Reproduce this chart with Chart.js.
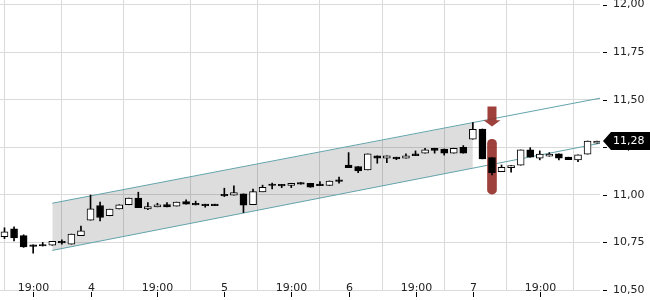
<!DOCTYPE html>
<html><head><meta charset="utf-8">
<script src="https://cdn.jsdelivr.net/npm/chart.js@4"></script>
<style>html,body{margin:0;padding:0;background:#fff}canvas{display:block}</style>
</head><body>
<canvas id="c" width="650" height="300"></canvas>
<script>
// ---- data ----
const opens  = [10.780,10.821,10.786,10.738,10.739,10.735,10.756,10.741,10.786,10.867,10.944,10.890,10.926,10.948,10.983,10.926,10.937,10.949,10.941,10.965,10.956,10.951,10.951,11.003,10.998,11.005,10.948,11.016,11.057,11.055,11.049,11.065,11.061,11.056,11.049,11.079,11.157,11.149,11.131,11.205,11.193,11.198,11.193,11.215,11.219,11.245,11.241,11.219,11.250,11.292,11.346,11.196,11.122,11.143,11.156,11.236,11.193,11.203,11.215,11.198,11.184,11.214,11.271];
const highs  = [10.827,10.832,10.790,10.738,10.750,10.756,10.764,10.794,10.836,10.999,10.962,10.925,10.948,10.983,11.014,10.960,10.956,10.960,10.962,10.974,10.967,10.951,10.951,11.035,11.047,11.005,11.030,11.051,11.062,11.055,11.061,11.065,11.061,11.070,11.073,11.093,11.222,11.149,11.215,11.205,11.205,11.198,11.215,11.231,11.245,11.245,11.241,11.245,11.259,11.380,11.346,11.196,11.157,11.154,11.236,11.248,11.231,11.222,11.215,11.198,11.210,11.283,11.283];
const lows   = [10.770,10.758,10.724,10.694,10.731,10.735,10.741,10.741,10.786,10.867,10.863,10.890,10.926,10.948,10.933,10.922,10.937,10.937,10.941,10.951,10.947,10.935,10.943,10.991,10.998,10.907,10.948,11.016,11.031,11.038,11.038,11.056,11.040,11.048,11.049,11.061,11.143,11.117,11.131,11.166,11.169,11.185,11.193,11.206,11.219,11.219,11.209,11.219,11.219,11.292,11.189,11.105,11.122,11.119,11.156,11.198,11.184,11.203,11.183,11.185,11.175,11.214,11.271];
const closes = [10.806,10.774,10.726,10.729,10.731,10.756,10.748,10.794,10.811,10.926,10.881,10.925,10.948,10.983,10.933,10.939,10.948,10.937,10.962,10.951,10.947,10.943,10.943,10.995,11.012,10.946,11.017,11.040,11.049,11.047,11.061,11.056,11.040,11.048,11.073,11.071,11.143,11.126,11.215,11.193,11.205,11.189,11.205,11.206,11.236,11.234,11.219,11.245,11.219,11.345,11.189,11.117,11.145,11.154,11.236,11.198,11.214,11.214,11.193,11.185,11.210,11.283,11.283];

const xTickIdx    = [3, 9, 16, 23, 30, 36, 43, 49, 56];
const xTickLabels = ['19:00', '4', '19:00', '5', '19:00', '6', '19:00', '7', '19:00'];
const yTicks      = [10.5, 10.75, 11, 11.25, 11.5, 11.75, 12];

const channelUpper     = [{x: 5, y: 10.956}, {x: 62.3, y: 11.508}];
const channelLower     = [{x: 5, y: 10.708}, {x: 62.3, y: 11.271}];
const channelFillUpper = [{x: 5, y: 10.956}, {x: 49, y: 11.378}];
const channelFillLower = [{x: 5, y: 10.708}, {x: 49, y: 11.140}];

const signalIndex = 51;
const signalRange = [11.004, 11.292];
const signalArrow = [11.464, 11.392, 11.359]; // shaft top, head base, tip

// ---- styles ----
const FONT = 'DejaVu Sans';
const GRID = '#dadada';
const TEAL = '#63a3ab';
const SIGNAL = 'rgba(150,48,42,0.92)';
const TEXT = '#222';

const bodies = opens.map((o, i) => ({x: i, y: [o, closes[i]]}));
const wicks = lows.map((l, i) => ({x: i, y: [l, highs[i]]}));
const bodyColors = opens.map((o, i) => closes[i] >= o ? '#ffffff' : '#000000');

const fmt = v => v.toFixed(2).replace('.', ',');

const overlay = {
  id: 'overlay',
  afterDatasetsDraw(chart) {
    const ctx = chart.ctx, xs = chart.scales.x, ys = chart.scales.y;
    const ax = xs.getPixelForValue(signalIndex);
    const yTop = ys.getPixelForValue(signalArrow[0]);
    const yBase = ys.getPixelForValue(signalArrow[1]);
    const yTip = ys.getPixelForValue(signalArrow[2]);
    ctx.save();
    ctx.fillStyle = SIGNAL;
    ctx.beginPath();
    ctx.moveTo(ax - 4.5, yTop);
    ctx.lineTo(ax + 4.5, yTop);
    ctx.lineTo(ax + 4.5, yBase);
    ctx.lineTo(ax + 8.5, yBase);
    ctx.lineTo(ax, yTip);
    ctx.lineTo(ax - 8.5, yBase);
    ctx.lineTo(ax - 4.5, yBase);
    ctx.closePath();
    ctx.fill();
    ctx.restore();
  },
  afterDraw(chart) {
    const ctx = chart.ctx, xs = chart.scales.x, ys = chart.scales.y;
    const area = chart.chartArea;
    ctx.save();
    ctx.font = '11px "' + FONT + '"';
    ctx.textAlign = 'center';
    ctx.textBaseline = 'alphabetic';
    ctx.strokeStyle = '#000';
    ctx.lineWidth = 1;
    xTickIdx.forEach((idx, k) => {
      const px = Math.round(xs.getPixelForValue(idx)) + 0.5;
      const w = ctx.measureText(xTickLabels[k]).width;
      ctx.fillStyle = '#fff';
      ctx.fillRect(px - w / 2 - 1, area.bottom - 8, w + 2, 7.5);
      ctx.fillStyle = TEXT;
      ctx.fillText(xTickLabels[k], px, area.bottom + 0.5);
      ctx.beginPath();
      ctx.moveTo(px, area.bottom + 2);
      ctx.lineTo(px, area.bottom + 7);
      ctx.stroke();
    });
    yTicks.forEach(v => {
      const py = Math.round(ys.getPixelForValue(v)) + 0.5;
      ctx.beginPath();
      ctx.moveTo(area.right + 3, py);
      ctx.lineTo(area.right + 7, py);
      ctx.stroke();
    });
    // last price tag
    const last = closes[closes.length - 1];
    const py = ys.getPixelForValue(last);
    ctx.fillStyle = '#000';
    ctx.beginPath();
    ctx.moveTo(area.right + 3, py);
    ctx.lineTo(area.right + 11, py - 9);
    ctx.lineTo(650, py - 9);
    ctx.lineTo(650, py + 9);
    ctx.lineTo(area.right + 11, py + 9);
    ctx.closePath();
    ctx.fill();
    ctx.fillStyle = '#fff';
    ctx.textAlign = 'left';
    ctx.textBaseline = 'middle';
    ctx.fillText(fmt(last), area.right + 13, py);
    ctx.restore();
  }
};

Chart.defaults.font.family = FONT;
Chart.defaults.font.size = 11;

new Chart(document.getElementById('c'), {
  type: 'bar',
  data: {
    datasets: [
      {type: 'bar', data: bodies, backgroundColor: bodyColors, borderColor: '#000', borderWidth: 1,
       borderSkipped: false, barThickness: 7, grouped: false, order: 0},
      {type: 'bar', data: wicks, backgroundColor: '#000', borderWidth: 0,
       barThickness: 1, grouped: false, order: 1},
      {type: 'bar', data: [{x: signalIndex, y: signalRange}], backgroundColor: SIGNAL, borderWidth: 0,
       borderRadius: 5, borderSkipped: false, barThickness: 9, grouped: false, order: 2},
      {type: 'line', data: channelUpper, borderColor: TEAL, borderWidth: 1, pointRadius: 0, fill: false, order: 3},
      {type: 'line', data: channelLower, borderColor: TEAL, borderWidth: 1, pointRadius: 0, fill: false, order: 3},
      {type: 'line', data: channelFillUpper, borderWidth: 0, borderColor: 'rgba(0,0,0,0)', pointRadius: 0,
       fill: '+1', backgroundColor: 'rgba(0,0,0,0.135)', order: 4},
      {type: 'line', data: channelFillLower, borderWidth: 0, borderColor: 'rgba(0,0,0,0)', pointRadius: 0,
       fill: false, order: 4}
    ]
  },
  options: {
    responsive: false,
    animation: false,
    devicePixelRatio: 1,
    layout: {padding: {left: 0, right: 0, top: 0, bottom: 10}},
    plugins: {legend: {display: false}, tooltip: {enabled: false}},
    scales: {
      x: {
        type: 'linear', min: -0.47, max: 62.3, offset: false,
        afterBuildTicks: s => { s.ticks = xTickIdx.map(v => ({value: v})); },
        ticks: {display: false},
        grid: {color: GRID, drawTicks: false},
        border: {display: false}
      },
      y: {
        type: 'linear', position: 'right', min: 10.5, max: 12.024,
        afterBuildTicks: s => { s.ticks = yTicks.map(v => ({value: v})); },
        afterFit: s => { s.width = 50; s.paddingTop = 0; s.paddingBottom = 0; },
        ticks: {color: TEXT, padding: 13, callback: v => fmt(v)},
        grid: {color: GRID, drawTicks: false},
        border: {display: false}
      }
    }
  },
  plugins: [overlay]
});
</script>
</body></html>
